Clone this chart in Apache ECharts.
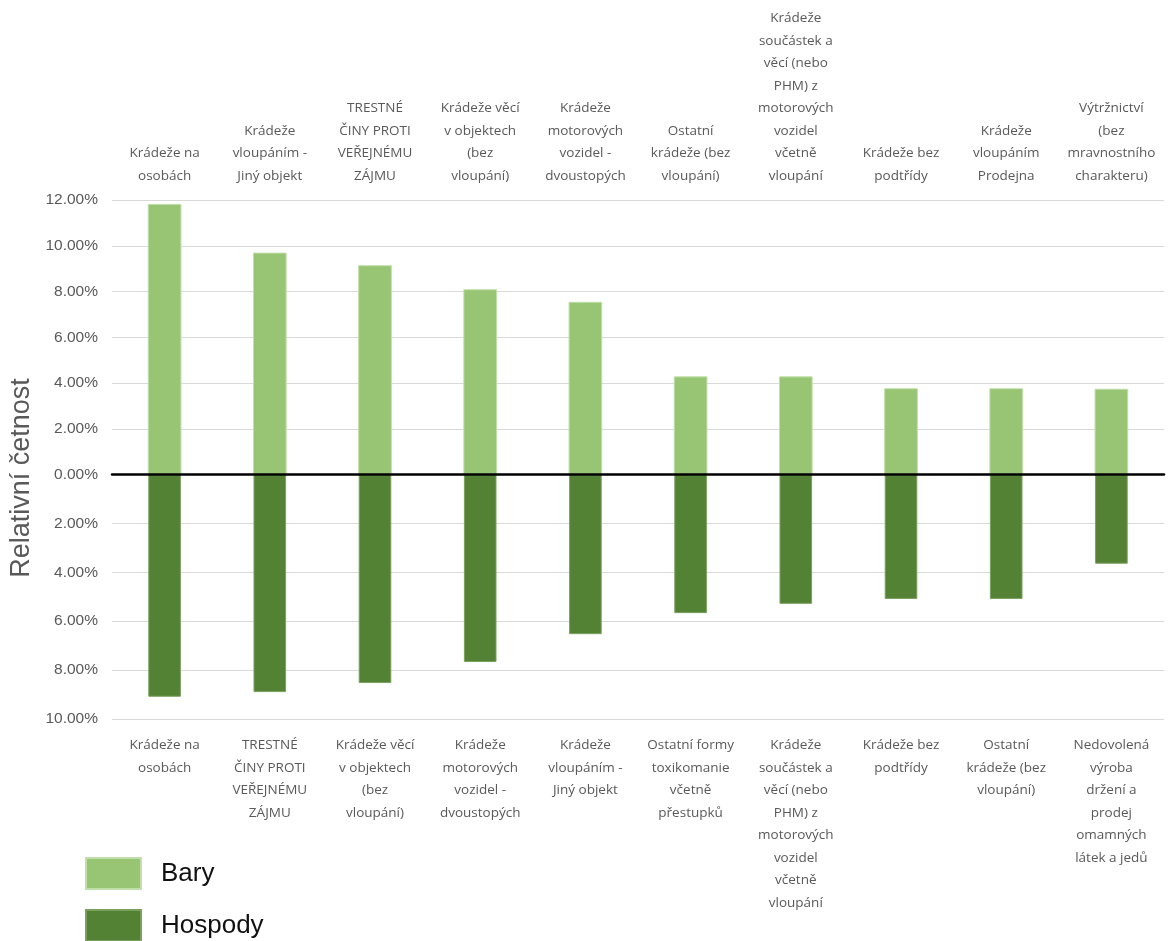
<!DOCTYPE html>
<html><head><meta charset="utf-8">
<script src="https://cdn.jsdelivr.net/npm/echarts@6/dist/echarts.min.js"></script>
<style>html,body{margin:0;padding:0;background:#fff}#c{width:1169px;height:941px}</style>
</head><body><div id="c"></div>
<script>
// Top panel (Bary)
const barCategories = [
  "Krádeže na\nosobách",
  "Krádeže\nvloupáním -\nJiný objekt",
  "TRESTNÉ\nČINY PROTI\nVEŘEJNÉMU\nZÁJMU",
  "Krádeže věcí\nv objektech\n(bez\nvloupání)",
  "Krádeže\nmotorových\nvozidel -\ndvoustopých",
  "Ostatní\nkrádeže (bez\nvloupání)",
  "Krádeže\nsoučástek a\nvěcí (nebo\nPHM) z\nmotorových\nvozidel\nvčetně\nvloupání",
  "Krádeže bez\npodtřídy",
  "Krádeže\nvloupáním\nProdejna",
  "Výtržnictví\n(bez\nmravnostního\ncharakteru)"
];
const barValues = [11.83, 9.70, 9.15, 8.10, 7.55, 4.29, 4.29, 3.77, 3.77, 3.75];

// Bottom panel (Hospody)
const pubCategories = [
  "Krádeže na\nosobách",
  "TRESTNÉ\nČINY PROTI\nVEŘEJNÉMU\nZÁJMU",
  "Krádeže věcí\nv objektech\n(bez\nvloupání)",
  "Krádeže\nmotorových\nvozidel -\ndvoustopých",
  "Krádeže\nvloupáním -\nJiný objekt",
  "Ostatní formy\ntoxikomanie\nvčetně\npřestupků",
  "Krádeže\nsoučástek a\nvěcí (nebo\nPHM) z\nmotorových\nvozidel\nvčetně\nvloupání",
  "Krádeže bez\npodtřídy",
  "Ostatní\nkrádeže (bez\nvloupání)",
  "Nedovolená\nvýroba\ndržení a\nprodej\nomamných\nlátek a jedů"
];
const pubValues = [9.09, 8.90, 8.53, 7.67, 6.53, 5.67, 5.29, 5.09, 5.09, 3.65];

const seriesNames = ["Bary", "Hospody"];
const yAxisTitle = "Relativní četnost";
const topAxisMax = 12, bottomAxisMax = 10, tickStep = 2;

const chart = echarts.init(document.getElementById('c'), null, {renderer: 'canvas'});
const catFont = {color: '#595959', fontSize: 13.5, lineHeight: 22.5, fontFamily: '"Open Sans", "Noto Sans", sans-serif'};
const valFont = {color: '#595959', fontSize: 15.5, fontFamily: '"Liberation Sans", Arial, sans-serif'};
const pct = v => v.toFixed(2) + '%';
const L = 112, R = 5, ZERO = 474.5;
const legendBase = {
  left: 85, padding: 0, itemWidth: 55, itemHeight: 31, icon: 'rect',
  textStyle: {fontSize: 26, color: '#111', fontFamily: '"Liberation Sans", Arial, sans-serif', padding: [0, 0, 0, 15]}
};

chart.setOption({
  animation: false,
  backgroundColor: '#fff',
  grid: [
    {left: L, right: R, top: 200, height: ZERO - 200},
    {left: L, right: R, top: ZERO, height: 719 - ZERO}
  ],
  legend: [
    Object.assign({top: 857, data: [seriesNames[0]]}, legendBase),
    Object.assign({top: 909, data: [seriesNames[1]]}, legendBase)
  ],
  graphic: [{
    type: 'text', x: 22, y: 478, rotation: Math.PI / 2,
    style: {text: yAxisTitle, fontSize: 27, fill: '#595959', textAlign: 'center', textVerticalAlign: 'middle',
      fontFamily: '"Liberation Sans", Arial, sans-serif'}
  }],
  xAxis: [
    {gridIndex: 0, type: 'category', data: barCategories, position: 'top',
      axisLine: {show: false}, axisTick: {show: false},
      axisLabel: Object.assign({interval: 0, margin: 13}, catFont)},
    {gridIndex: 0, type: 'category', data: barCategories, position: 'bottom',
      axisLine: {show: true, onZero: false, lineStyle: {color: '#000', width: 2.5}}, axisTick: {show: false},
      axisLabel: {show: false}, z: 10},
    {gridIndex: 1, type: 'category', data: pubCategories, position: 'bottom',
      axisLine: {show: false}, axisTick: {show: false},
      axisLabel: Object.assign({interval: 0, margin: 15}, catFont)}
  ],
  yAxis: [
    {gridIndex: 0, type: 'value', min: 0, max: topAxisMax, interval: tickStep,
      axisLine: {show: false}, axisTick: {show: false},
      splitLine: {lineStyle: {color: '#d9d9d9', width: 1}},
      axisLabel: Object.assign({formatter: pct, margin: 14}, valFont)},
    {gridIndex: 1, type: 'value', min: 0, max: bottomAxisMax, interval: tickStep, inverse: true,
      axisLine: {show: false}, axisTick: {show: false},
      splitLine: {lineStyle: {color: '#d9d9d9', width: 1}},
      axisLabel: Object.assign({formatter: pct, margin: 14, showMinLabel: false}, valFont)}
  ],
  series: [
    {name: seriesNames[0], type: 'bar', xAxisIndex: 0, yAxisIndex: 0, data: barValues, barWidth: '32%',
      itemStyle: {color: '#97c574', borderColor: '#c0dfa9', borderWidth: 1}},
    {name: seriesNames[1], type: 'bar', xAxisIndex: 2, yAxisIndex: 1, data: pubValues, barWidth: '31%',
      itemStyle: {color: '#548235', borderColor: '#7aa05e', borderWidth: 1}}
  ]
});
</script>
</body></html>
